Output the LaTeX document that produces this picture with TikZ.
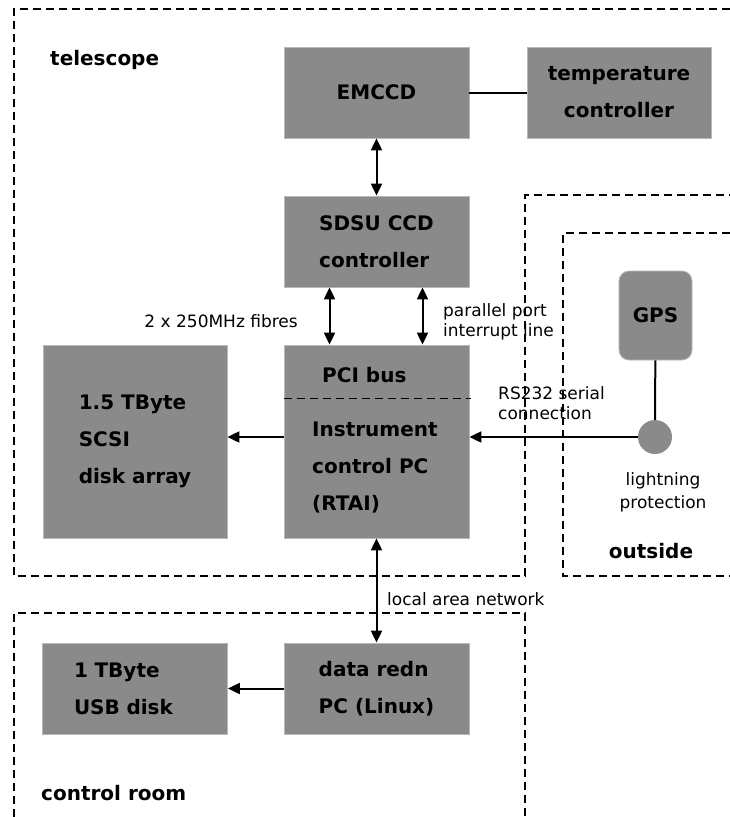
\documentclass[tikz,border=0pt]{standalone}
\usepackage{fontspec}
\setmainfont{DejaVu Sans}
\usetikzlibrary{arrows.meta}
\definecolor{boxgray}{gray}{0.54}
\definecolor{boxedge}{gray}{0.72}
\tikzset{
  box/.style={fill=boxgray, draw=boxedge, line width=0.8pt, inner sep=0pt,
    minimum width=185pt, minimum height=91pt, align=left,
    font=\bfseries\fontsize{20}{37}\selectfont},
  boxtxt/.style={inner sep=0pt, align=left, font=\bfseries\fontsize{20}{37}\selectfont},
  region/.style={line width=1.4pt, dash pattern=on 8pt off 5pt},
  link/.style={line width=2pt},
  arr/.style={link, -{Triangle[length=12pt,width=11pt]}},
  dblarr/.style={link, {Triangle[length=12pt,width=11pt]}-{Triangle[length=12pt,width=11pt]}},
  lbl/.style={inner sep=0pt, align=left, font=\fontsize{17}{20}\selectfont},
  grp/.style={inner sep=0pt, font=\bfseries\fontsize{20}{24}\selectfont},
}
\begin{document}
\begin{tikzpicture}[x=1pt,y=-1pt]
	\useasboundingbox (0,0) rectangle (730,817);
	% regions
	\draw[region] (730,9) -- (14,9) -- (14,576) -- (525,576) -- (525,195) -- (730,195);
	\draw[region] (730,233) -- (563,233) -- (563,576) -- (730,576);
	\draw[region] (14,817) -- (14,613) -- (525,613) -- (525,817);
	\node[grp, anchor=base west] (tel) at (50,65) {telescope};
	\node[grp, anchor=base] (out) at (651,558) {outside};
	\node[grp, anchor=base west] (ctl) at (41,800) {control room};

	% boxes
	\node[box] (emccd) at (376.5,92.5) {EMCCD};
	\node[box, minimum width=184pt, align=center] (temp) at (619,92.5) {temperature\\controller};
	\node[box] (sdsu) at (376.5,241.5) {SDSU CCD\\controller};
	\node[box, minimum height=193pt] (pc) at (376.5,441.5) {};
	\node[boxtxt, anchor=base west] (pci) at (322,382) {PCI bus};
	\node[boxtxt, anchor=base west] (pcname) at (312,510) {Instrument\\control PC\\(RTAI)};
	\draw[region] ([yshift=-54pt]pc.north west) -- ([yshift=-54pt,xshift=2pt]pc.north east);
	\node[box, minimum width=184pt, minimum height=193pt] (scsi) at (135,441.5) {1.5 TByte\\SCSI\\disk array};
	\node[box] (redn) at (376.5,688.5) {data redn\\PC (Linux)};
	\node[box, inner xsep=31pt, text width=122pt] (usb) at (135,688.5) {1 TByte\\USB disk};
	\node[box, minimum width=73pt, minimum height=89pt, rounded corners=10pt] (gps) at (655.5,315.5) {GPS};
	\node[circle, fill=boxgray, minimum size=34pt, inner sep=0pt] (lp) at (655,437) {};

	% connections
	\draw[link] (emccd) -- (temp);
	\draw[dblarr] (emccd) -- (sdsu);
	\draw[dblarr] ([xshift=-47pt]sdsu.south) -- ([xshift=-47pt]pc.north);
	\draw[dblarr] ([xshift=46pt]sdsu.south) -- ([xshift=46pt]pc.north);
	\draw[arr] (pc.west |- lp) -- (scsi.east |- lp);
	\draw[link] (gps) -- (lp);
	\draw[arr] (lp) -- (lp -| pc.east);
	\draw[dblarr] (pc) -- (redn);
	\draw[arr] (redn) -- (usb);

	% labels
	\node[lbl, anchor=base east] (fib) at (298,327) {2 x 250MHz fibres};
	\node[lbl, anchor=base west] (ppl) at (443,336) {parallel port\\interrupt line};
	\node[lbl, anchor=base west] (rs) at (498,419) {RS232 serial\\connection};
	\node[lbl, anchor=base, align=center, font=\fontsize{17}{23}\selectfont] (lpl) at (663,508) {lightning\\protection};
	\node[lbl, anchor=base west] (lan) at (387,605) {local area network};
\end{tikzpicture}
\end{document}
